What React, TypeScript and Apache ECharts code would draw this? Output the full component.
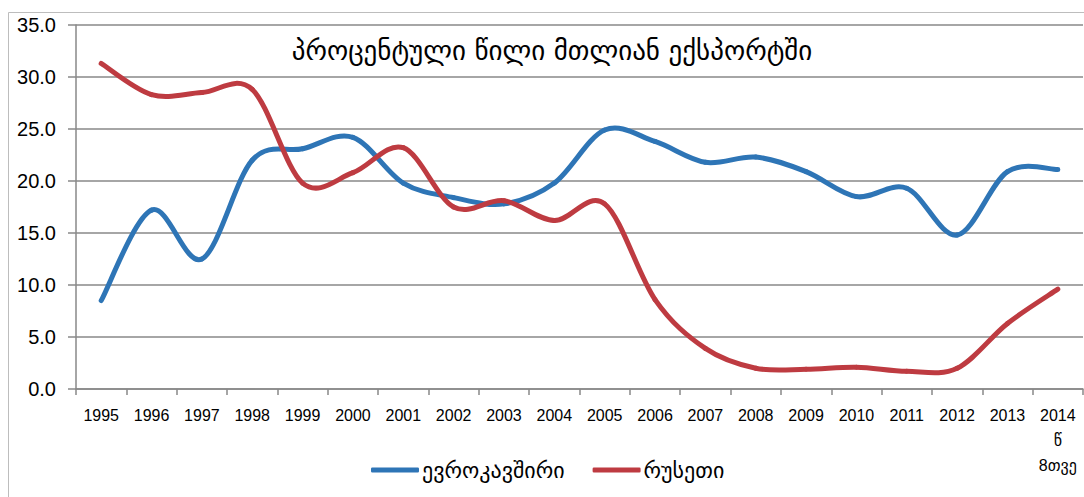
import React, { useEffect, useRef } from "react";
import * as echarts from "echarts";

const years = ["1995", "1996", "1997", "1998", "1999", "2000", "2001", "2002", "2003", "2004", "2005", "2006", "2007", "2008", "2009", "2010", "2011", "2012", "2013", "2014\nწ\n8თვე"];
const euValues = [8.5, 17.2, 12.5, 22.0, 23.1, 24.2, 19.8, 18.4, 17.8, 19.8, 24.9, 23.8, 21.8, 22.3, 20.9, 18.5, 19.3, 14.8, 20.9, 21.1];
const ruValues = [31.3, 28.3, 28.5, 28.8, 19.8, 20.8, 23.2, 17.5, 18.1, 16.2, 17.8, 8.6, 3.9, 2.0, 1.9, 2.1, 1.7, 2.0, 6.3, 9.6];
const seriesNames = ["ევროკავშირი", "რუსეთი"];
const titleText = "პროცენტული წილი მთლიან ექსპორტში";

const BLUE = "#2E75B6";
const RED = "#BE3B41";
const GEO_FONT = "DejaVu Sans";
const NUM_FONT = "Liberation Sans, DejaVu Sans";

// Excel-like smoothed line: Catmull-Rom segments drawn through the axis scales
function makeSmoothSeries(name: string, values: number[], color: string) {
  return {
    name,
    type: "custom",
    coordinateSystem: "cartesian2d",
    data: values.map((v, i) => [i, v]),
    encode: { x: 0, y: 1 },
    itemStyle: { color },
    renderItem: (params: any, api: any) => {
      const i = api.value(0) as number;
      const n = values.length;
      if (i >= n - 1) return null;
      const pt = (j: number) => api.coord([Math.max(0, Math.min(n - 1, j)), values[Math.max(0, Math.min(n - 1, j))]]);
      const p0 = pt(i - 1);
      const p1 = pt(i);
      const p2 = pt(i + 1);
      const p3 = pt(i + 2);
      const t = 1 / 6;
      return {
        type: "bezierCurve",
        shape: {
          x1: p1[0],
          y1: p1[1],
          x2: p2[0],
          y2: p2[1],
          cpx1: p1[0] + (p2[0] - p0[0]) * t,
          cpy1: p1[1] + (p2[1] - p0[1]) * t,
          cpx2: p2[0] - (p3[0] - p1[0]) * t,
          cpy2: p2[1] - (p3[1] - p1[1]) * t,
        },
        style: { stroke: color, lineWidth: 5, fill: "none", lineCap: "round" },
      };
    },
  };
}

export default function App() {
  const ref = useRef<HTMLDivElement>(null);
  useEffect(() => {
    if (!ref.current) return;
    const chart = echarts.init(ref.current, null, { renderer: "svg" });
    chart.setOption({
      animation: false,
      backgroundColor: "#fff",
      graphic: [
        {
          type: "rect",
          shape: { x: 8.5, y: 12.5, width: 1100, height: 520 },
          style: { fill: "none", stroke: "#BDBDBD", lineWidth: 1 },
          silent: true,
        },
      ],
      title: {
        text: titleText,
        left: 547,
        top: 32,
        textAlign: "center",
        textStyle: { fontFamily: GEO_FONT, fontSize: 27, fontWeight: "normal", color: "#000" },
      },
      legend: {
        left: 366,
        top: 454,
        itemWidth: 48,
        itemHeight: 5,
        itemGap: 28,
        icon: "roundRect",
        textStyle: { fontFamily: GEO_FONT, fontSize: 22, color: "#000", padding: [0, 0, 0, -2] },
        data: seriesNames,
      },
      grid: { left: 76, right: 1, top: 25, bottom: 108, containLabel: false },
      xAxis: {
        type: "category",
        data: years,
        boundaryGap: true,
        axisLine: { show: true, lineStyle: { color: "#888", width: 1.5 } },
        axisTick: { show: true, length: 6, alignWithLabel: false, lineStyle: { color: "#888", width: 1.5 } },
        axisLabel: {
          interval: 0,
          margin: 14,
          fontFamily: NUM_FONT,
          fontSize: 16,
          lineHeight: 25,
          color: "#000",
        },
        splitLine: { show: false },
      },
      yAxis: {
        type: "value",
        min: 0,
        max: 35,
        interval: 5,
        axisLine: { show: true, lineStyle: { color: "#888", width: 1.5 } },
        axisTick: { show: true, length: 8, lineStyle: { color: "#888", width: 1.5 } },
        axisLabel: {
          margin: 20,
          fontFamily: NUM_FONT,
          fontSize: 20,
          color: "#000",
          formatter: (v: number) => v.toFixed(1),
        },
        splitLine: { show: true, lineStyle: { color: "#888", width: 1.5 } },
      },
      series: [
        makeSmoothSeries(seriesNames[0], euValues, BLUE),
        makeSmoothSeries(seriesNames[1], ruValues, RED),
      ],
    });
    return () => chart.dispose();
  }, []);
  return (
    <div
      ref={ref}
      style={{ position: "fixed", left: 0, top: 0, width: 1084, height: 497, background: "#fff" }}
    />
  );
}
